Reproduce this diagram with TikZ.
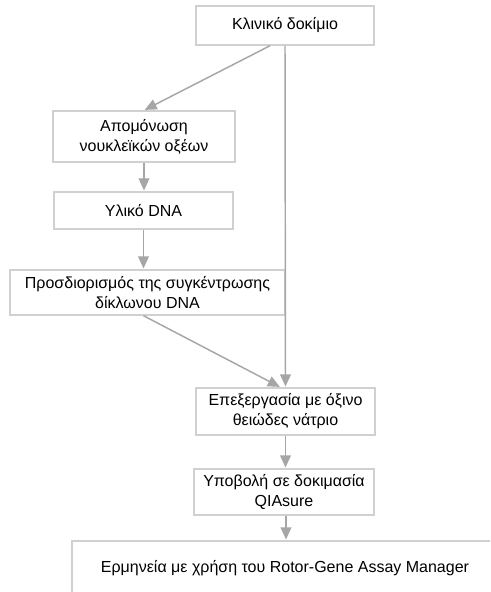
\documentclass[tikz,border=0pt]{standalone}
\usepackage{fontspec}
\setmainfont{Liberation Sans}
\usetikzlibrary{arrows.meta}
\definecolor{boxgray}{HTML}{D0D0D0}
\definecolor{arrgray}{HTML}{A6A6A6}
\tikzset{
  box/.style={draw=boxgray, line width=1.1pt, fill=white, align=center, inner sep=0pt, font=\fontsize{12}{15}\selectfont, text=black},
  arr/.style={draw=arrgray, line width=1.1pt, -{Triangle[length=9pt,width=8pt]}, shorten >=0.6pt}
}
\begin{document}
\begin{tikzpicture}[x=0.75pt,y=-0.75pt]
\useasboundingbox (0,0) rectangle (490,592);
\clip (0,0) rectangle (490,592);
\node[box, minimum width=178*0.75pt, minimum height=39*0.75pt] (top) at (285,25.5) {Κλινικό δοκίμιο};
\node[box, minimum width=182*0.75pt, minimum height=51*0.75pt] (iso) at (144,136.5) {Απομόνωση\\νουκλεϊκών οξέων};
\node[box, minimum width=179*0.75pt, minimum height=37*0.75pt] (dna) at (143.5,210.5) {Υλικό DNA};
\node[box, minimum width=275*0.75pt, minimum height=45*0.75pt] (conc) at (147.5,292.5) {Προσδιορισμός της συγκέντρωσης\\δίκλωνου DNA};
\node[box, minimum width=179*0.75pt, minimum height=47*0.75pt] (bis) at (285.5,411.5) {Επεξεργασία με όξινο\\θειώδες νάτριο};
\node[box, minimum width=180*0.75pt, minimum height=46*0.75pt] (qia) at (284,492) {Υποβολή σε δοκιμασία\\QIAsure};
\node[box, minimum width=426*0.75pt, minimum height=54*0.75pt] (ram) at (285,568) {Ερμηνεία με χρήση του Rotor-Gene Assay Manager};
\draw[arr] ([xshift=-15*0.75pt]top.south) -- (iso.north);
\draw[arr] (top.south) -- (bis.north);
\draw[arr] (iso.south) -- (iso.south |- dna.north);
\draw[arr] (dna.south) -- (dna.south |- conc.north);
\draw[arr] ([xshift=-4*0.75pt]conc.south) -- ([xshift=-5*0.75pt]bis.north);
\draw[arr] (bis.south) -- (bis.south |- qia.north);
\draw[arr] ([xshift=2*0.75pt]qia.south) -- ([xshift=2*0.75pt]qia.south |- ram.north);
\end{tikzpicture}
\end{document}
